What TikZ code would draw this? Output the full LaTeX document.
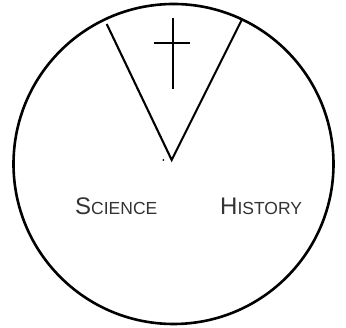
\documentclass[tikz,border=0pt]{standalone}
\usepackage{fontspec}
\setmainfont{Liberation Sans}
\definecolor{txt}{HTML}{333333}
\begin{document}
\begin{tikzpicture}[x=1pt,y=-1pt,
  outline/.style={line width=2.6pt,black},
  wedgeline/.style={line width=2.1pt,black},
  crossline/.style={line width=2pt,black},
  label/.style={anchor=base west,inner sep=0pt,text=txt}]
\useasboundingbox (0,0) rectangle (346,328);
\node[circle,draw,outline,minimum size=320pt,inner sep=0pt] (disc) at (173.5,164) {};
\coordinate (apex) at (171.7,160);
\coordinate (lt) at (106.7,24);
\coordinate (rt) at (241.7,20);
\draw[wedgeline,line join=miter] (lt) -- (apex) -- (rt);
\coordinate (ctop) at (173.3,18);
\coordinate (cbot) at (173.3,89);
\coordinate (cl) at (154,42.7);
\coordinate (cr) at (190,42.7);
\draw[crossline] (ctop) -- (cbot);
\draw[crossline] (cl) -- (cr);
\fill (163.3,160) circle (1pt);
\node[label] (sci) at (75,215) {\fontsize{24}{24}\selectfont S\fontsize{17.5}{17.5}\selectfont CIENCE};
\node[label] (his) at (220,215) {\fontsize{24}{24}\selectfont H\fontsize{17.5}{17.5}\selectfont ISTORY};
\end{tikzpicture}
\end{document}
